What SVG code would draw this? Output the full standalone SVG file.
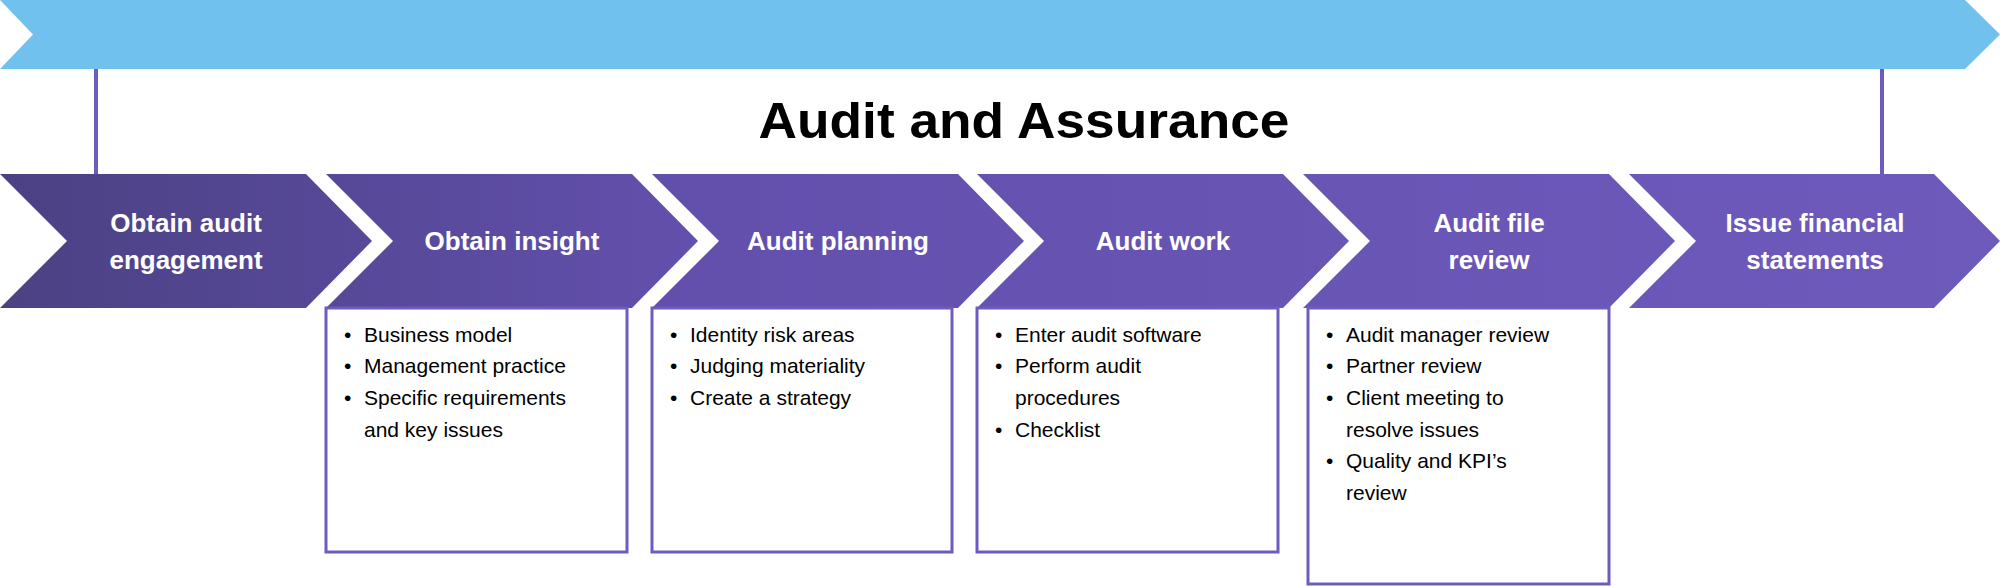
<svg xmlns="http://www.w3.org/2000/svg" width="2000" height="586" viewBox="0 0 2000 586">
<style>
.ch{font-family:"Liberation Sans",Arial,sans-serif;font-weight:bold;font-size:26px;fill:#fff;text-anchor:middle}
.bx{fill:#fff;stroke:#6f5bbf;stroke-width:3}
.bl{font-family:"Liberation Sans",Arial,sans-serif;font-size:21px;fill:#000}
.ln{stroke:#6f5bbf;stroke-width:4}
</style>
<defs>
<linearGradient id="g" x1="0" y1="0" x2="2000" y2="0" gradientUnits="userSpaceOnUse">
<stop offset="0" stop-color="#4b4183"/><stop offset="0.35" stop-color="#6350ad"/><stop offset="1" stop-color="#6e5abb"/>
</linearGradient>
</defs>
<polygon points="0,0 1965,0 2000,34.5 1965,69 0,69 33,34.5" fill="#70c1ee"/>
<g id="connectors">
<line class="ln" x1="96" y1="69" x2="96" y2="174"/>
<line class="ln" x1="1882" y1="69" x2="1882" y2="174"/>
</g>
<text x="1024" y="138" font-family="'Liberation Sans',Arial,sans-serif" font-weight="bold" font-size="50" text-anchor="middle" textLength="531" lengthAdjust="spacingAndGlyphs">Audit and Assurance</text>
<g id="n1"><polygon points="0,174 306,174 372,241 306,308 0,308 67,241" fill="url(#g)"/>
<text class="ch" x="186" y="232">Obtain audit</text><text class="ch" x="186" y="269">engagement</text></g>
<g id="n2"><polygon points="326,174 632,174 698,241 632,308 326,308 393,241" fill="url(#g)"/>
<text class="ch" x="512" y="250">Obtain insight</text>
<rect class="bx" x="326" y="308" width="301" height="244"/>
<text class="bl"><tspan x="344" y="342">•</tspan><tspan x="364" y="342">Business model</tspan><tspan x="344" y="373">•</tspan><tspan x="364" y="373">Management practice</tspan><tspan x="344" y="405">•</tspan><tspan x="364" y="405">Specific requirements</tspan><tspan x="364" y="437">and key issues</tspan></text></g>
<g id="n3"><polygon points="652,174 958,174 1024,241 958,308 652,308 719,241" fill="url(#g)"/>
<text class="ch" x="838" y="250">Audit planning</text>
<rect class="bx" x="652" y="308" width="300" height="244"/>
<text class="bl"><tspan x="670" y="342">•</tspan><tspan x="690" y="342">Identity risk areas</tspan><tspan x="670" y="373">•</tspan><tspan x="690" y="373">Judging materiality</tspan><tspan x="670" y="405">•</tspan><tspan x="690" y="405">Create a strategy</tspan></text></g>
<g id="n4"><polygon points="977,174 1283,174 1349,241 1283,308 977,308 1044,241" fill="url(#g)"/>
<text class="ch" x="1163" y="250">Audit work</text>
<rect class="bx" x="977" y="308" width="301" height="244"/>
<text class="bl"><tspan x="995" y="342">•</tspan><tspan x="1015" y="342">Enter audit software</tspan><tspan x="995" y="373">•</tspan><tspan x="1015" y="373">Perform audit</tspan><tspan x="1015" y="405">procedures</tspan><tspan x="995" y="437">•</tspan><tspan x="1015" y="437">Checklist</tspan></text></g>
<g id="n5"><polygon points="1303,174 1609,174 1675,241 1609,308 1303,308 1370,241" fill="url(#g)"/>
<text class="ch" x="1489" y="232">Audit file</text><text class="ch" x="1489" y="269">review</text>
<rect class="bx" x="1308" y="308" width="301" height="276"/>
<text class="bl"><tspan x="1326" y="342">•</tspan><tspan x="1346" y="342">Audit manager review</tspan><tspan x="1326" y="373">•</tspan><tspan x="1346" y="373">Partner review</tspan><tspan x="1326" y="405">•</tspan><tspan x="1346" y="405">Client meeting to</tspan><tspan x="1346" y="437">resolve issues</tspan><tspan x="1326" y="468">•</tspan><tspan x="1346" y="468">Quality and KPI’s</tspan><tspan x="1346" y="500">review</tspan></text></g>
<g id="n6"><polygon points="1629,174 1934,174 2000,241 1934,308 1629,308 1696,241" fill="url(#g)"/>
<text class="ch" x="1815" y="232">Issue financial</text><text class="ch" x="1815" y="269">statements</text></g>
</svg>
